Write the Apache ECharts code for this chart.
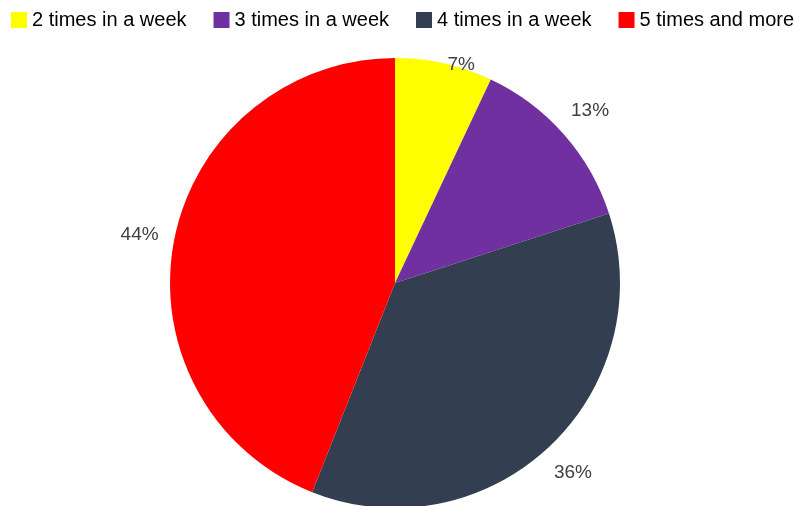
<!DOCTYPE html>
<html>
<head>
<meta charset="utf-8">
<script src="https://cdn.jsdelivr.net/npm/echarts@6/dist/echarts.min.js"></script>
<style>
  html, body { margin: 0; padding: 0; background: #fff; }
  #chart { width: 805px; height: 506px; }
</style>
</head>
<body>
<div id="chart"></div>
<script>
// Weekly frequency shares (percent)
const categories = ['2 times in a week', '3 times in a week', '4 times in a week', '5 times and more'];
const shares = [7, 13, 36, 44];
const colors = ['#FFFF00', '#7030A0', '#333F50', '#FF0000'];

const pieData = categories.map((name, i) => ({ name, value: shares[i] }));

// top edge of the plot area; labels are kept below it
const PLOT_TOP = 55;

const chart = echarts.init(document.getElementById('chart'), null, { renderer: 'canvas' });
chart.setOption({
  animation: false,
  color: colors,
  textStyle: { fontFamily: '"Liberation Sans", Arial, sans-serif' },
  legend: {
    top: 5,
    left: 6,
    itemWidth: 16,
    itemHeight: 16,
    itemGap: 27,
    icon: 'rect',
    textStyle: { fontSize: 20, color: '#000' },
    data: categories
  },
  series: [
    {
      type: 'pie',
      center: [395, 283],
      radius: 225,
      startAngle: 90,
      clockwise: true,
      label: { show: false },
      labelLine: { show: false },
      itemStyle: { borderWidth: 0 },
      emphasis: { disabled: true },
      data: pieData
    },
    {
      // transparent ring that carries the percentage labels outside the pie
      type: 'pie',
      center: [395, 283],
      radius: [250, 264],
      startAngle: 90,
      clockwise: true,
      silent: true,
      legendHoverLink: false,
      itemStyle: { color: 'rgba(0,0,0,0)', borderWidth: 0 },
      label: {
        show: true,
        position: 'inside',
        formatter: '{c}%',
        fontSize: 19,
        color: '#404040'
      },
      labelLine: { show: false },
      labelLayout: function (params) {
        const r = params.labelRect;
        if (r.y < PLOT_TOP) {
          // pushed down below the legend, slid right to keep clear of the slice
          return { y: PLOT_TOP + r.height / 2, x: r.x + r.width / 2 + r.height / 2 };
        }
        return {};
      },
      emphasis: { disabled: true },
      data: pieData
    }
  ]
});
</script>
</body>
</html>
